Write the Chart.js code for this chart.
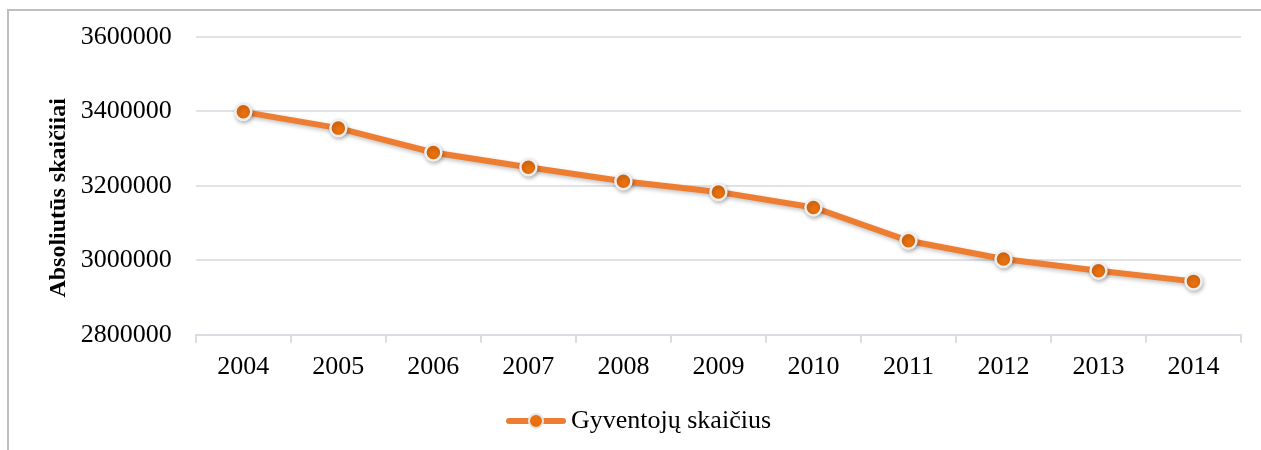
<!DOCTYPE html>
<html>
<head>
<meta charset="utf-8">
<script src="https://cdn.jsdelivr.net/npm/chart.js@4/dist/chart.umd.min.js"></script>
<style>
  body { margin: 0; background: #fff; }
  #wrap { position: relative; width: 1261px; height: 450px; overflow: hidden; }
  #frame { position: absolute; left: 7px; top: 9px; width: 1400px; height: 600px; border: 2px solid #bfbfbf; }
  canvas { position: absolute; left: 0; top: 0; }
</style>
</head>
<body>
<div id="wrap">
  <div id="frame"></div>
  <canvas id="chart" width="1261" height="450"></canvas>
</div>
<script>
const years = ['2004', '2005', '2006', '2007', '2008', '2009', '2010', '2011', '2012', '2013', '2014'];
const population = [3398929, 3355220, 3289835, 3249983, 3212605, 3183856, 3141976, 3052588, 3003641, 2971905, 2943472];
const yTicks = [2800000, 3000000, 3200000, 3400000, 3600000];
const seriesName = 'Gyventojų skaičius';
const axisTitle = 'Absoliutūs skaičiiai';

const lineColor = '#ED7D31';
const dotColor = '#E8700F';

// little legend symbol: line with a dot in the middle
const legendIcon = document.createElement('canvas');
legendIcon.width = 60;
legendIcon.height = 22;
(function () {
  const c = legendIcon.getContext('2d');
  c.strokeStyle = lineColor;
  c.lineWidth = 6;
  c.lineCap = 'round';
  c.beginPath();
  c.moveTo(3, 11);
  c.lineTo(57, 11);
  c.stroke();
  c.beginPath();
  c.arc(30, 11, 7, 0, Math.PI * 2);
  c.fillStyle = dotColor;
  c.fill();
  c.lineWidth = 2;
  c.strokeStyle = '#e6e6e6';
  c.stroke();
})();

const shadowPlugin = {
  id: 'shadow',
  beforeDatasetDraw(chart) {
    const ctx = chart.ctx;
    ctx.save();
    ctx.shadowColor = 'rgba(0,0,0,0.25)';
    ctx.shadowBlur = 4;
    ctx.shadowOffsetX = 1;
    ctx.shadowOffsetY = 2;
  },
  afterDatasetDraw(chart) {
    chart.ctx.restore();
  }
};

const serif = "'Liberation Serif', 'Times New Roman', serif";

new Chart(document.getElementById('chart').getContext('2d'), {
  type: 'line',
  data: {
    labels: years,
    datasets: [{
      label: seriesName,
      data: population,
      borderColor: lineColor,
      borderWidth: 6,
      tension: 0,
      pointRadius: 8,
      pointBackgroundColor: dotColor,
      pointBorderColor: '#eeeeee',
      pointBorderWidth: 2.5,
      pointHoverRadius: 8,
    }],
  },
  options: {
    responsive: false,
    animation: false,
    layout: { padding: { left: 44, right: 20, top: 18, bottom: 6 } },
    plugins: {
      tooltip: { enabled: false },
      legend: {
        position: 'bottom',
        labels: {
          color: '#000',
          font: { family: serif, size: 26 },
          padding: 16,
          usePointStyle: true,
          pointStyleWidth: 44,
          boxHeight: 22,
          generateLabels: (chart) => [{
            text: seriesName,
            pointStyle: legendIcon,
            fillStyle: dotColor,
            strokeStyle: lineColor,
            lineWidth: 0,
            datasetIndex: 0,
          }],
        },
      },
    },
    scales: {
      x: {
        offset: true,
        grid: { offset: true, drawOnChartArea: false, color: '#d9dde3', tickLength: 8, lineWidth: 2 },
        border: { color: '#d9dde3', width: 2 },
        ticks: { color: '#000', font: { family: serif, size: 26 }, padding: 9 },
      },
      y: {
        min: yTicks[0],
        max: yTicks[yTicks.length - 1],
        afterBuildTicks: (scale) => { scale.ticks = yTicks.map(v => ({ value: v })); },
        grid: { color: '#dfe3e8', lineWidth: 2, drawTicks: false },
        border: { display: false },
        ticks: {
          color: '#000',
          font: { family: serif, size: 26, lineHeight: 1.0 },
          padding: 24,
          callback: (v) => String(v),
        },
        title: {
          display: true,
          // trailing spaces nudge the rotated title a bit lower, like the original
          text: axisTitle + '\u00A0\u00A0\u00A0\u00A0',
          color: '#000',
          font: { family: serif, size: 24, weight: 'bold' },
          padding: { top: 0, bottom: -16 },
        },
      },
    },
  },
  plugins: [shadowPlugin],
});
</script>
</body>
</html>
